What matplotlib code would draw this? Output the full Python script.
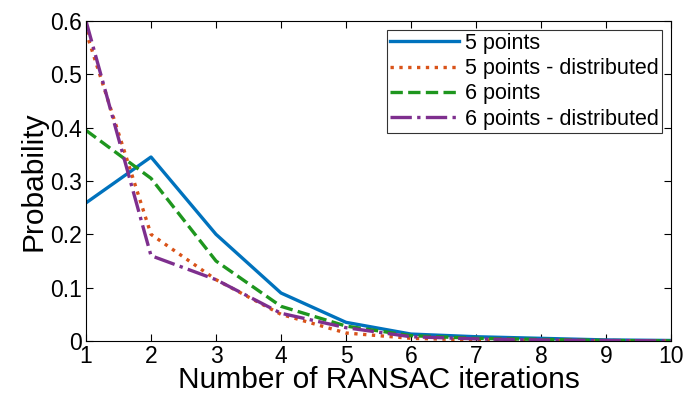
import matplotlib
matplotlib.use("Agg")
import matplotlib.pyplot as plt
import numpy as np

plt.rcParams['font.family'] = ['Liberation Sans', 'DejaVu Sans']

iterations = np.arange(1, 11)
five_pts = [0.259, 0.345, 0.200, 0.090, 0.035, 0.013, 0.008, 0.005, 0.002, 0.001]
five_pts_dist = [0.580, 0.200, 0.115, 0.050, 0.015, 0.005, 0.002, 0.001, 0.000, 0.000]
six_pts = [0.395, 0.305, 0.150, 0.065, 0.028, 0.010, 0.005, 0.003, 0.001, 0.000]
six_pts_dist = [0.600, 0.160, 0.115, 0.052, 0.025, 0.008, 0.004, 0.002, 0.001, 0.000]

fig = plt.figure(figsize=(6.88, 3.93), dpi=100)
ax = fig.add_axes([86/688, 1 - 341/393, (671-86)/688, (341-21)/393])

ax.plot(iterations, five_pts, '-', color='#0072BD', lw=2.4, label='5 points')
ax.plot(iterations, five_pts_dist, ':', color='#D95319', lw=2.4, label='5 points - distributed')
ax.plot(iterations, six_pts, '--', color='#1E961E', lw=2.4, label='6 points')
ax.plot(iterations, six_pts_dist, '-.', color='#7E2F8E', lw=2.4, label='6 points - distributed')

ax.set_xlim(1, 10)
ax.set_ylim(0, 0.6)
ax.set_xticks(iterations)
ax.set_yticks([0, 0.1, 0.2, 0.3, 0.4, 0.5, 0.6])
ax.set_yticklabels(['0', '0.1', '0.2', '0.3', '0.4', '0.5', '0.6'])
ax.tick_params(direction='in', top=True, right=True, labelsize=16.5, length=5, pad=3)
for s in ax.spines.values():
    s.set_linewidth(0.8)
ax.set_xlabel('Number of RANSAC iterations', fontsize=21.5, labelpad=-1.5)
ax.set_ylabel('Probability', fontsize=21.5, labelpad=2)

leg = ax.legend(loc='upper right', fontsize=15.5, frameon=True, fancybox=False,
                edgecolor='black', borderpad=0.15, labelspacing=0.2,
                handlelength=3.2, handletextpad=0.3, borderaxespad=0.4)
leg.get_frame().set_linewidth(0.8)

fig.savefig('out.png', dpi=100)
